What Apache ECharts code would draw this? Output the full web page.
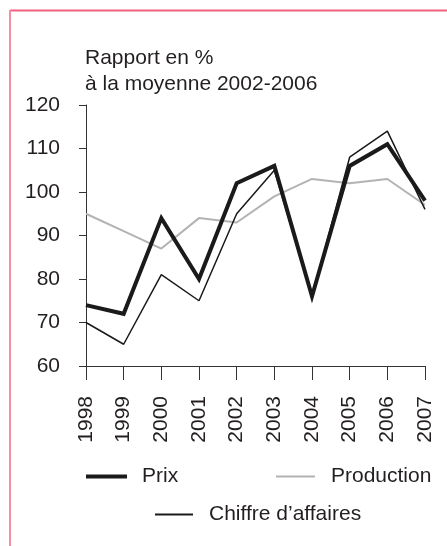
<!DOCTYPE html>
<html>
<head>
<meta charset="utf-8">
<script src="https://cdn.jsdelivr.net/npm/echarts@6/dist/echarts.min.js"></script>
<style>
  html, body { margin: 0; padding: 0; background: #fff; }
  #chart { width: 447px; height: 546px; }
</style>
</head>
<body>
<div id="chart"></div>
<script>
// Years on the horizontal axis
const years = ['1998', '1999', '2000', '2001', '2002', '2003', '2004', '2005', '2006', '2007'];

// Index values, % of the 2002-2006 average
const prix = [74, 72, 94, 80, 102, 106, 76, 106, 111, 98];
const production = [95, 91, 87, 94, 93, 99, 103, 102, 103, 97];
const chiffreAffaires = [70, 65, 81, 75, 95, 105, 76, 108, 114, 96];

// Vertical axis range
const yMin = 60, yMax = 120, yStep = 10;

const font = 'Liberation Sans, Arial, sans-serif';
const fontSize = 21;
const textColor = '#231f20';
const axisColor = '#333333';

const chart = echarts.init(document.getElementById('chart'), null, { renderer: 'canvas' });

chart.setOption({
  animation: false,
  backgroundColor: '#ffffff',
  title: {
    text: 'Rapport en %\nà la moyenne 2002-2006',
    left: 85,
    top: 45,
    padding: 0,
    textStyle: { fontFamily: font, fontSize: fontSize, fontWeight: 'normal', color: textColor, lineHeight: 26 }
  },
  graphic: [
    { type: 'line', shape: { x1: 10, y1: 10.5, x2: 447, y2: 10.5 }, style: { stroke: '#f0607c', lineWidth: 2 } },
    { type: 'line', shape: { x1: 10, y1: 10, x2: 10, y2: 546 }, style: { stroke: '#f28fa2', lineWidth: 2 } }
  ],
  grid: { left: 86, right: 22, top: 105, bottom: 180, containLabel: false },
  legend: [
    {
      data: ['Prix'], left: 86, top: 466, padding: 0, itemWidth: 41, itemHeight: 4, icon: 'rect',
      textStyle: { fontFamily: font, fontSize: fontSize, color: textColor, padding: [0, 0, 7, 10] }
    },
    {
      data: ['Production'], left: 276, top: 466, padding: 0, itemWidth: 39, itemHeight: 2, icon: 'rect',
      textStyle: { fontFamily: font, fontSize: fontSize, color: textColor, padding: [0, 0, 7, 11] }
    },
    {
      data: ["Chiffre d’affaires"], left: 155, top: 504, padding: 0, itemWidth: 38, itemHeight: 2, icon: 'rect',
      textStyle: { fontFamily: font, fontSize: fontSize, color: textColor, padding: [0, 0, 7, 11] }
    }
  ],
  xAxis: {
    type: 'category',
    data: years,
    boundaryGap: false,
    axisLine: { lineStyle: { color: axisColor, width: 1 } },
    axisTick: { alignWithLabel: true, length: 14, lineStyle: { color: axisColor } },
    axisLabel: { rotate: 90, margin: 30, fontFamily: font, fontSize: fontSize, color: textColor, interval: 0 },
    splitLine: { show: false }
  },
  yAxis: {
    type: 'value',
    min: yMin, max: yMax, interval: yStep,
    axisLine: { show: true, lineStyle: { color: axisColor, width: 1 } },
    axisTick: { show: true, length: 7, lineStyle: { color: axisColor } },
    axisLabel: { margin: 26, fontFamily: font, fontSize: fontSize, color: textColor },
    splitLine: { show: false }
  },
  series: [
    {
      name: 'Production', type: 'line', data: production, symbol: 'none', z: 1,
      lineStyle: { color: '#b3b3b3', width: 2 }, itemStyle: { color: '#b3b3b3' }
    },
    {
      name: "Chiffre d’affaires", type: 'line', data: chiffreAffaires, symbol: 'none', z: 2,
      lineStyle: { color: '#1a1a1a', width: 1.5 }, itemStyle: { color: '#1a1a1a' }
    },
    {
      name: 'Prix', type: 'line', data: prix, symbol: 'none', z: 3,
      lineStyle: { color: '#1a1a1a', width: 4, join: 'miter' }, itemStyle: { color: '#1a1a1a' }
    }
  ]
});
</script>
</body>
</html>
